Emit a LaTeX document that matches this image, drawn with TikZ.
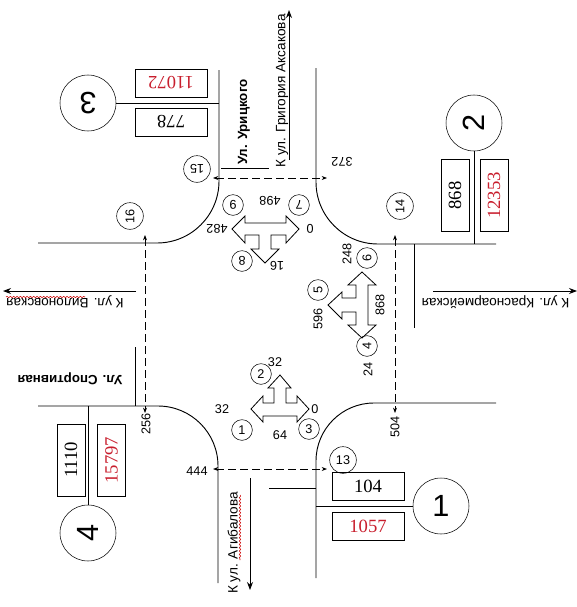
\documentclass[tikz,border=0pt]{standalone}
\usepackage{fontspec}
\setmainfont{Liberation Sans}
\newfontfamily\boxfont{Liberation Serif}
\usetikzlibrary{arrows.meta,decorations.pathmorphing}
\definecolor{boxred}{RGB}{200,30,45}

\begin{document}
\begin{tikzpicture}[
  x=0.75pt,y=-0.75pt,
  % round nodes and count boxes
  bigcircle/.style={circle,draw=black,minimum size=42pt,inner sep=0pt,font=\fontsize{23}{23}\selectfont},
  midcircle/.style={circle,draw=black,minimum size=15.5pt,inner sep=0pt,font=\fontsize{9.5}{9.5}\selectfont},
  walkcircle/.style={circle,draw=black,minimum size=20pt,inner sep=0pt,font=\fontsize{9.5}{9.5}\selectfont},
  flat/.style={draw=black,inner sep=0pt,font=\boxfont\fontsize{14}{14}\selectfont,minimum width=54pt,minimum height=21pt},
  redtext/.style={text=boxred},
  number/.style={inner sep=0pt,font=\fontsize{9.5}{9.5}\selectfont},
  street/.style={inner sep=0pt,font=\fontsize{10.2}{10.2}\selectfont},
  streetbold/.style={inner sep=0pt,font=\bfseries\fontsize{10}{10}\selectfont},
  line/.style={draw=black,line width=0.7pt},
  walk/.style={draw=black,line width=0.6pt,dash pattern=on 6pt off 3pt,{Stealth[length=4pt,width=3pt]}-{Stealth[length=4pt,width=3pt]}},
  road/.style={draw=black,line width=0.7pt,-{Stealth[length=6pt,width=4.5pt]}},
  turns/.style={draw=black,line width=0.6pt,fill=white},
  spell/.style={draw=red!80!black,line width=0.4pt,decorate,decoration={snake,amplitude=0.5pt,segment length=2.5pt}}
]
\useasboundingbox (0,0) rectangle (577,607);

% kerbs
\draw[line] (219,70) -- (219,181) arc[start angle=0,end angle=90,radius=62] -- (38,243);
\draw[line] (316,68) -- (316,182) arc[start angle=180,end angle=90,radius=62] -- (496,244);
\draw[line] (38,406) -- (158,406) arc[start angle=-90,end angle=0,radius=60] -- (218,583);
\draw[line] (316,578) -- (316,461) arc[start angle=180,end angle=270,radius=58] -- (496,403);

% helper ends
\coordinate (N3) at (219,103);
\coordinate (N2) at (474,244);
\coordinate (N4) at (88,406);
\coordinate (N1) at (316,506);
\coordinate (W1) at (213,178);
\coordinate (W2) at (327,178);
\coordinate (W3) at (145,235);
\coordinate (W4) at (145,413);
\coordinate (W5) at (213,469);
\coordinate (W6) at (327,469);
\coordinate (W7) at (395,235);
\coordinate (W8) at (395,413);

% posts
\node[bigcircle,rotate=180] (P3) at (88,103) {3};
\node[bigcircle,rotate=90] (P2) at (474,123) {2};
\node[bigcircle] (P1) at (441,506) {1};
\node[bigcircle,rotate=90] (P4) at (88,533) {4};
\draw[line] (P3)--(N3);
\draw[line] (P2)--(N2);
\draw[line] (P4)--(N4);
\draw[line] (P1)--(N1);

% counts
\node[flat,redtext,rotate=180] (B3a) at (171,83) {11072};
\node[flat,rotate=180] (B3b) at (171,122) {778};
\node[flat] (B1a) at (368,486.5) {104};
\node[flat,redtext] (B1b) at (368,526) {1057};
\node[flat,rotate=90] (B2a) at (455,195.5) {868};
\node[flat,redtext,rotate=90] (B2b) at (494,195.5) {12353};
\node[flat,rotate=90] (B4a) at (71,460) {1110};
\node[flat,redtext,rotate=90] (B4b) at (111.5,460) {15797};

% crossings
\draw[walk] (W1)--(W2);
\draw[walk] (W3)--(W4);
\draw[walk] (W5)--(W6);
\draw[walk] (W7)--(W8);
\node[walkcircle,rotate=180] (C15) at (197,169) {15};
\node[walkcircle,rotate=90] (C16) at (130,216) {16};
\node[walkcircle,rotate=90] (C14) at (400,206) {14};
\node[walkcircle] (C13) at (343,460) {13};
\node[number,rotate=180] (T372) at (342,162) {372};
\node[number,rotate=90] (T256) at (146,424) {256};
\node[number] (T444) at (197,471) {444};
\node[number,rotate=90] (T504) at (395,427) {504};

% streets
\coordinate (R3a) at (289,160);
\coordinate (R3b) at (289,10);
\coordinate (R2a) at (433,291);
\coordinate (R2b) at (577,291);
\coordinate (R4a) at (136,291);
\coordinate (R4b) at (3,291);
\coordinate (R1a) at (250,478);
\coordinate (R1b) at (250,590);
\draw[road] (R3a)--(R3b);
\draw[road] (R2a)--(R2b);
\draw[road] (R4a)--(R4b);
\draw[road] (R1a)--(R1b);
\node[street,rotate=90] (S3) at (282,91) {К ул. Григория Аксакова};
\node[street,rotate=180] (S2) at (495.5,302) {К ул. Красноармейская};
\node[street,rotate=180] (S4) at (65,302) {К ул. Вилоновская};
\node[street,rotate=90] (S1) at (234,543) {К ул. Агибалова};
\node[streetbold,rotate=90] (U3) at (244,122) {Ул. Урицкого};
\node[streetbold,rotate=180] (U4) at (70,379) {Ул. Спортивная};
\draw[line] (221,168)--(269,168);
\draw[line] (135,347)--(135,406);
\draw[line] (414,244)--(414,328);
\draw[line] (269,488)--(316,488);
\draw[spell] (6,297)--(85,297);
\draw[spell] (240,495)--(240,560);

% turn arrows, top
\draw[turns] (245,235)--(259,235)--(259,249)--(251,249)--(265,263)--(279,249)--(271,249)--(271,235)--(286,235)--(286,243)--(299,229)--(286,216)--(286,223)--(245,223)--(245,216)--(232,229)--(245,243)--cycle;
\node[midcircle,rotate=180] (C9) at (233,205) {9};
\node[midcircle,rotate=180] (C7) at (299,205) {7};
\node[midcircle,rotate=180] (C8) at (242,261) {8};
\node[number,rotate=180] (T498) at (270,201) {498};
\node[number,rotate=180] (T482) at (217,229) {482};
\node[number,rotate=180] (T0a) at (310,229) {0};
\node[number,rotate=180] (T16) at (277,266) {16};

% turn arrows, right
\draw[turns] (368,285)--(368,325)--(376,325)--(362,338)--(348,325)--(356,325)--(356,312)--(342,312)--(342,319)--(328,305)--(342,292)--(342,298)--(356,298)--(356,285)--(348,285)--(362,272)--(376,285)--cycle;
\node[midcircle,rotate=90] (C6) at (367,258) {6};
\node[midcircle,rotate=90] (C5) at (318,290) {5};
\node[midcircle,rotate=90] (C4) at (367,346) {4};
\node[number,rotate=90] (T248) at (347,254) {248};
\node[number,rotate=90] (T596) at (318,319) {596};
\node[number,rotate=90] (T868) at (380,305) {868};
\node[number,rotate=90] (T24) at (368,369) {24};

% turn arrows, bottom
\draw[turns] (263,403)--(274,403)--(274,388)--(268,388)--(280,375)--(291,388)--(286,388)--(286,403)--(297,403)--(297,396)--(309,409)--(297,422)--(297,416)--(263,416)--(263,422)--(251,409)--(263,396)--cycle;
\node[midcircle] (C2) at (261,374) {2};
\node[midcircle] (C1) at (242,430) {1};
\node[midcircle] (C3) at (309,429) {3};
\node[number] (T32a) at (275,362) {32};
\node[number] (T32b) at (222,409) {32};
\node[number] (T0b) at (315,409) {0};
\node[number] (T64) at (280,435) {64};

\end{tikzpicture}
\end{document}
